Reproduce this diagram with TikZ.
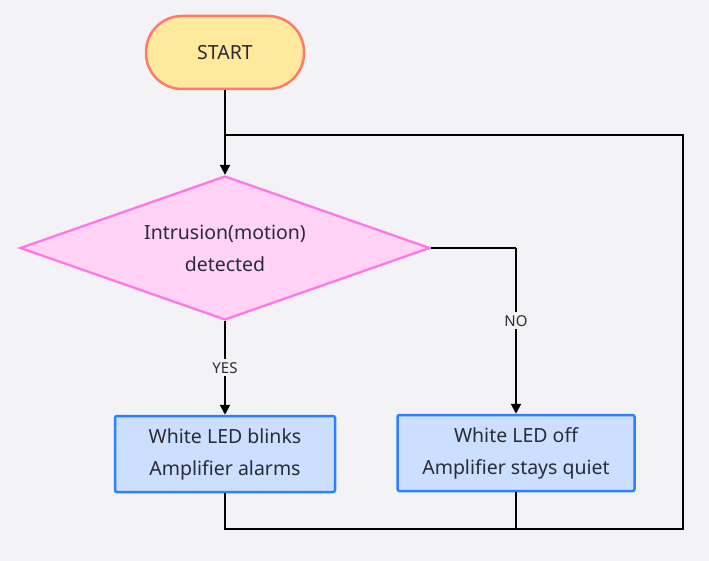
\documentclass[tikz,border=0pt]{standalone}
\usepackage{fontspec}
\setmainfont{Noto Sans}
\usepackage{tikz}
\usetikzlibrary{shapes.geometric,arrows.meta}

\definecolor{bgcol}{HTML}{F3F3F6}
\definecolor{startfill}{HTML}{FFE99D}
\definecolor{startline}{HTML}{FF7A6A}
\definecolor{decfill}{HTML}{FFD2F6}
\definecolor{decline}{HTML}{FF77E6}
\definecolor{boxfill}{HTML}{CCDFFF}
\definecolor{boxline}{HTML}{2D7FFF}
\definecolor{txtcol}{HTML}{2A2A38}

\tikzset{
	startbox/.style={draw=startline, fill=startfill, line width=2.5pt, rounded corners=36pt,
		minimum width=158pt, minimum height=73pt, font=\fontsize{19.5}{23}\selectfont, text=txtcol},
	decbox/.style={diamond, draw=decline, fill=decfill, line width=2.3pt,
		minimum width=410pt, minimum height=144pt, inner sep=0pt},
	dectext/.style={align=center, font=\fontsize{19.5}{32}\selectfont, text=txtcol},
	actbox/.style={draw=boxline, fill=boxfill, line width=2.5pt, rounded corners=2pt,
		minimum height=76pt, align=center, font=\fontsize{19.5}{32}\selectfont, text=txtcol},
	flow/.style={line width=2pt, -{Triangle[length=10pt,width=10pt]}},
	line/.style={line width=2pt},
	lbl/.style={fill=bgcol, font=\fontsize{15}{17}\selectfont, text=txtcol, inner sep=3pt}
}

\begin{document}
\begin{tikzpicture}[x=1pt,y=-1pt]
		\fill[bgcol] (0,0) rectangle (709,561);
		\useasboundingbox (0,0) rectangle (709,561);

		\coordinate (S) at (225, 52.5);
		\coordinate (D) at (225, 248);
		\coordinate (Y) at (225, 454);
		\coordinate (N) at (516, 453);

		\node[startbox] (start) at (S) {START};
		\node[decbox] (detect) at (D) {};
		\node[dectext] (detectText) at (D) {Intrusion(motion)\\detected};
		\node[actbox, minimum width=220pt] (alarm) at (Y) {White LED blinks\\Amplifier alarms};
		\node[actbox, minimum width=237pt] (quiet) at (N) {White LED off\\Amplifier stays quiet};

		\coordinate (loopTop) at (225, 135);
		\coordinate (loopTR) at (683, 135);
		\coordinate (loopBR) at (683, 529);
		\coordinate (loopBL) at (alarm.south |- loopBR);
		\coordinate (loopBM) at (quiet.south |- loopBR);
		\coordinate (noTurn) at (quiet.north |- detect.east);

		\draw[flow] (start) -- (detect);
		\draw[flow] (detect) -- node[lbl] {YES} (alarm);
		\draw[line] (detect.east) -- (noTurn);
		\draw[flow] (noTurn) -- node[lbl, pos=0.44] {NO} (quiet);
		\draw[line] (alarm.south) -- (loopBL) -- (loopBR) -- (loopTR) -- (loopTop);
		\draw[line] (quiet.south) -- (loopBM);
	\end{tikzpicture}
\end{document}
